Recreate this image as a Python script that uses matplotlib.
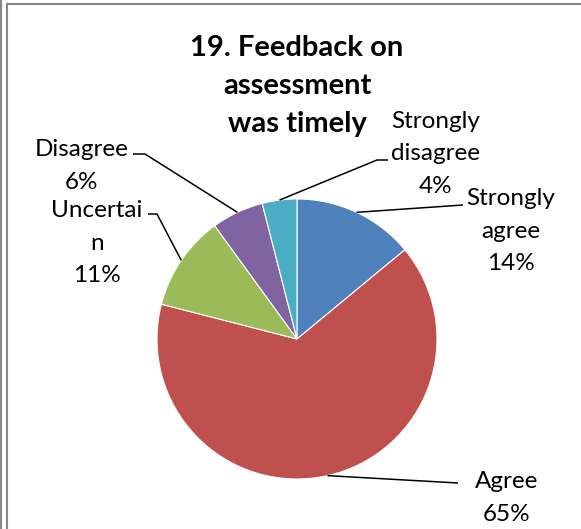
import matplotlib.pyplot as plt
import numpy as np

W, H = 581, 529

categories = ["Strongly agree", "Agree", "Uncertain", "Disagree", "Strongly disagree"]
label_text = ["Strongly\nagree", "Agree", "Uncertai\nn", "Disagree", "Strongly\ndisagree"]
values = [14, 65, 11, 6, 4]
colors = ["#4F81BD", "#C0504D", "#9BBB59", "#8064A2", "#4BACC6"]

# pie geometry in pixel coords (y down)
CX, CY, R = 297, 339, 140

# label centre, leader elbow, leader end (pixel coords, y down)
label_pos = [(511, 231), (507, 498), (97, 243), (82, 166), (436, 154)]
elbows = [None, None, (157, 214), (145, 154), (377, 160)]
ends = [(463, 205), (458, 483), (148, 214), (133, 154), (388, 160)]


def fy(y):
    return H - y


fig = plt.figure(figsize=(W / 100, H / 100), dpi=100)
ax = fig.add_axes([0, 0, 1, 1])

ax.pie(values, colors=colors, startangle=90, counterclock=False,
       center=(CX, fy(CY)), radius=R, frame=True,
       wedgeprops=dict(edgecolor="white", linewidth=0.8))
ax.set_xlim(0, W)
ax.set_ylim(0, H)
ax.axis("off")

fonts = ['Lato', 'DejaVu Sans']

total = sum(values)
cum = 0
for i, v in enumerate(values):
    mid = (cum + v / 2) / total * 2 * np.pi
    cum += v
    pts = [(CX + R * np.sin(mid), CY - R * np.cos(mid))]
    if elbows[i] is not None:
        pts.append(elbows[i])
    pts.append(ends[i])
    xs = [p[0] for p in pts]
    ys = [fy(p[1]) for p in pts]
    ax.plot(xs, ys, color="black", lw=1.1, solid_capstyle="butt")
    lx, ly = label_pos[i]
    ax.text(lx, fy(ly), "%s\n%d%%" % (label_text[i], round(v / total * 100)),
            ha="center", va="center", fontsize=17.5, linespacing=1.68,
            family=fonts)

ax.text(297, fy(86), "19. Feedback on\nassessment\nwas timely", ha="center",
        va="center", fontsize=21, fontweight="bold", linespacing=1.55,
        family=fonts)

# frame lines of the source
ax.plot([1, 1], [0, H], color="#888888", lw=1.5)
ax.plot([7, 7], [0, fy(4)], color="#888888", lw=1.5)
ax.plot([7, W], [fy(4), fy(4)], color="#888888", lw=1.5)

fig.savefig("out.png", dpi=100)
